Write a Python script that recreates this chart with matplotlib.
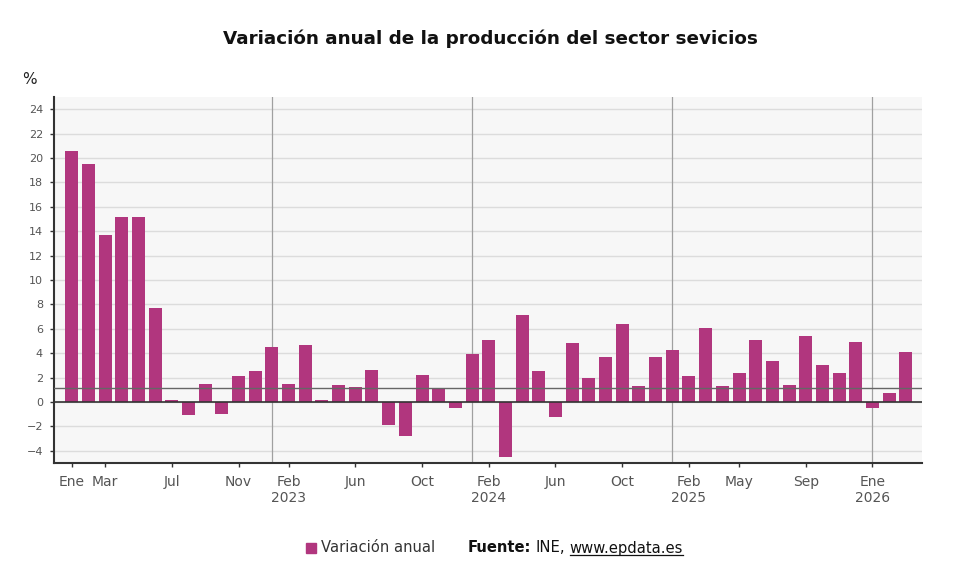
import numpy as np
import matplotlib
matplotlib.use("Agg")
import matplotlib.pyplot as plt
from matplotlib.lines import Line2D

# Monthly data, Jan 2022 - Mar 2026
months = ["Ene", "Feb", "Mar", "Abr", "May", "Jun", "Jul", "Ago", "Sep", "Oct", "Nov", "Dic"]
years = [2022, 2023, 2024, 2025, 2026]
values = [
    20.6, 19.5, 13.7, 15.2, 15.2, 7.7, 0.15, -1.1, 1.5, -1.0, 2.1, 2.5,    # 2022
    4.5, 1.5, 4.7, 0.15, 1.4, 1.2, 2.6, -1.9, -2.8, 2.2, 1.1, -0.5,        # 2023
    3.9, 5.1, -4.5, 7.1, 2.5, -1.2, 4.8, 2.0, 3.7, 6.4, 1.3, 3.7,          # 2024
    4.3, 2.1, 6.1, 1.3, 2.4, 5.1, 3.4, 1.4, 5.4, 3.0, 2.4, 4.9,            # 2025
    -0.5, 0.7, 4.1,                                                        # 2026
]
ref_line = 1.15

tick_idx = [0, 2, 6, 10, 13, 17, 21, 25, 29, 33, 37, 40, 44, 48]
tick_labels = ["Ene", "Mar", "Jul", "Nov", "Feb\n2023", "Jun", "Oct", "Feb\n2024",
               "Jun", "Oct", "Feb\n2025", "May", "Sep", "Ene\n2026"]
year_starts = [12, 24, 36, 48]

bar_color = "#b1367e"

fig = plt.figure(figsize=(9.8, 5.88), dpi=100)
ax = fig.add_axes([0.0551, 0.2126, 0.8854, 0.6224])
ax.set_facecolor("#f7f7f7")

x = np.arange(len(values))
ax.bar(x, values, width=0.78, color=bar_color, zorder=3)

ax.set_xlim(-1.06, 50.95)
ax.set_ylim(-5, 25)

# grid
ax.set_yticks(np.arange(-4, 25, 2))
ax.yaxis.grid(True, color="#dcdcdc", linewidth=1, zorder=0)
ax.set_axisbelow(True)
for ys in year_starts:
    ax.axvline(ys, color="#a0a0a0", linewidth=0.9, zorder=2)
ax.axhline(ref_line, color="#666666", linewidth=1.0, zorder=4)
ax.axhline(0, color="#333333", linewidth=1.2, zorder=4)

ax.set_xticks(tick_idx)
ax.set_xticklabels(tick_labels, fontsize=10, color="#555555", linespacing=1.1)
ax.tick_params(axis="x", length=3, width=1, color="#333333", pad=6)
ax.tick_params(axis="y", length=3, width=1, color="#333333", labelsize=8, labelcolor="#555555", pad=5)

for s in ["top", "right"]:
    ax.spines[s].set_visible(False)
ax.spines["left"].set_color("#333333")
ax.spines["left"].set_linewidth(1.5)
ax.spines["bottom"].set_color("#333333")
ax.spines["bottom"].set_linewidth(1.5)

fig.text(0.5, 0.934, "Variación anual de la producción del sector sevicios",
         ha="center", va="center", fontsize=13.2, fontweight="bold", color="#111111")
fig.text(0.023, 0.864, "%", ha="left", va="center", fontsize=11, color="#222222")

# legend + source
fs = 10.6
ly = 1 - 548 / 588
fig.patches.append(plt.Rectangle((306 / 980, 1 - 553 / 588), 10 / 980, 10 / 588,
                                 transform=fig.transFigure, color=bar_color))
fig.text(321 / 980, ly, "Variación anual", ha="left", va="center",
         fontsize=fs, color="#333333")
t1 = fig.text(468 / 980, ly, "Fuente:", ha="left", va="center",
              fontsize=fs, fontweight="bold", color="#111111")
fig.canvas.draw()
r = fig.canvas.get_renderer()
bb = t1.get_window_extent(r)
t2 = fig.text(bb.x1 / 980 + 0.004, ly, "INE,", ha="left", va="center",
              fontsize=fs, color="#111111")
bb2 = t2.get_window_extent(r)
t3 = fig.text(bb2.x1 / 980 + 0.005, ly, "www.epdata.es", ha="left", va="center",
              fontsize=fs, color="#111111")
bb3 = t3.get_window_extent(r)
fig.lines.append(Line2D([bb3.x0 / 980, bb3.x1 / 980], [(bb3.y0 + 1) / 588] * 2,
                        transform=fig.transFigure, color="#111111", linewidth=0.9))

fig.savefig("out.png", dpi=100)
